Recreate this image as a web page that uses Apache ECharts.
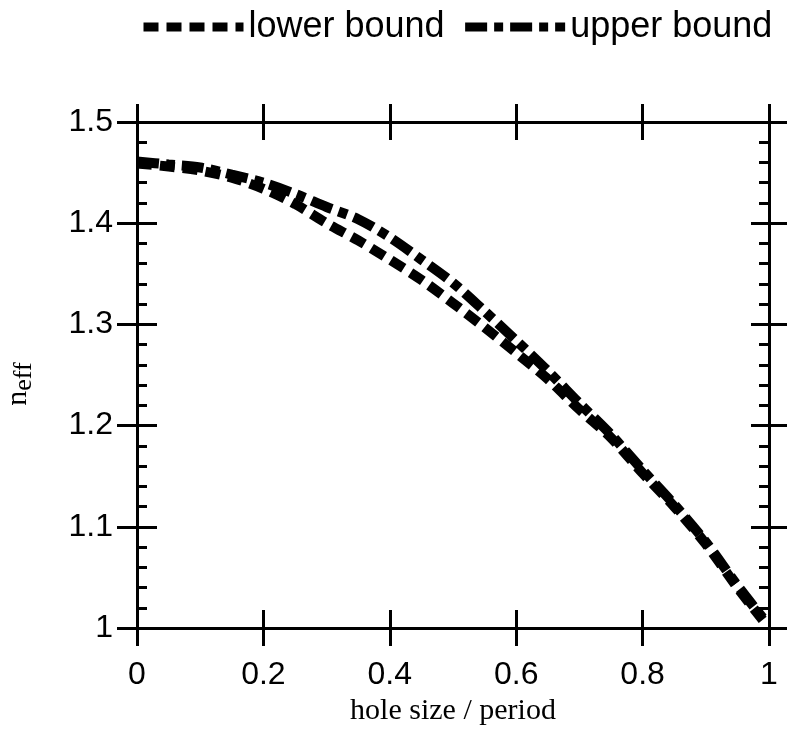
<!DOCTYPE html>
<html><head><meta charset="utf-8">
<script src="https://cdn.jsdelivr.net/npm/echarts@6/dist/echarts.min.js"></script>
<style>html,body{margin:0;padding:0;background:#fff}#c{width:789px;height:732px}</style>
</head><body><div id="c"></div>
<script>
// ---- data ----
const holeSize = [0, 0.05, 0.1, 0.15, 0.2, 0.25, 0.3, 0.35, 0.4, 0.45, 0.5, 0.55, 0.6, 0.65, 0.7, 0.75, 0.8, 0.85, 0.9, 0.95, 0.99];
const lowerBound = [1.459, 1.456, 1.452, 1.445, 1.434, 1.419, 1.400, 1.383, 1.364, 1.344, 1.321, 1.297, 1.272, 1.246, 1.216, 1.188, 1.153, 1.120, 1.083, 1.040, 1.008];
const upperBound = [1.461, 1.458, 1.455, 1.448, 1.440, 1.429, 1.416, 1.404, 1.386, 1.364, 1.341, 1.313, 1.284, 1.254, 1.222, 1.191, 1.156, 1.122, 1.085, 1.042, 1.010];
const seriesNames = ['lower bound', 'upper bound'];
const xTickLabels = ['0', '0.2', '0.4', '0.6', '0.8', '1'];
const yTickLabels = ['1', '1.1', '1.2', '1.3', '1.4', '1.5'];
const xAxisTitle = 'hole size / period';
const yAxisTitleMain = 'n';
const yAxisTitleSub = 'eff';

const pair = (xs, ys) => xs.map((x, i) => [x, ys[i]]);

const SANS = '"Liberation Sans", Arial, Helvetica, sans-serif';
const SERIF = '"Liberation Serif", "Times New Roman", serif';
const black = '#000';
const axisLine = {show: true, onZero: false, lineStyle: {color: black, width: 3}};
const tickStyle = {color: black, width: 3};

const xBase = {type: 'value', min: 0, max: 1, interval: 0.2, splitLine: {show: false}, axisLine: axisLine};
const yBase = {type: 'value', min: 1, max: 1.5, interval: 0.1, splitLine: {show: false}, axisLine: axisLine};

const option = {
  animation: false,
  backgroundColor: '#fff',
  grid: {left: 137, right: 20, top: 122, bottom: 104, containLabel: false, outerBoundsMode: 'none'},
  legend: {
    data: seriesNames,
    orient: 'horizontal',
    left: 139, top: 9, width: 650, padding: 0,
    itemWidth: 100, itemHeight: 14, itemGap: 16,
    selectedMode: false,
    lineStyle: {width: 9},
    itemStyle: {opacity: 0},
    textStyle: {fontSize: 36, fontFamily: SANS, color: black}
  },
  xAxis: [
    Object.assign({}, xBase, {
      position: 'bottom',
      axisTick: {show: true, inside: true, length: 18, lineStyle: tickStyle},
      axisLabel: {show: true, margin: 31, fontSize: 32, fontFamily: SANS, color: black,
        formatter: (v) => xTickLabels[Math.round(v / 0.2)]},
      name: xAxisTitle, nameLocation: 'middle', nameGap: 60,
      nameTextStyle: {fontSize: 30, fontFamily: SERIF, color: black}
    }),
    Object.assign({}, xBase, {position: 'bottom', axisTick: {show: true, inside: false, length: 18, lineStyle: tickStyle}, axisLabel: {show: false}}),
    Object.assign({}, xBase, {position: 'top', axisTick: {show: true, inside: true, length: 18, lineStyle: tickStyle}, axisLabel: {show: false}}),
    Object.assign({}, xBase, {position: 'top', axisTick: {show: true, inside: false, length: 18, lineStyle: tickStyle}, axisLabel: {show: false}})
  ],
  yAxis: [
    Object.assign({}, yBase, {
      position: 'left',
      axisTick: {show: true, inside: true, length: 20, lineStyle: tickStyle},
      minorTick: {show: true, splitNumber: 5, length: 10, lineStyle: tickStyle},
      axisLabel: {show: true, margin: 24, fontSize: 32, fontFamily: SANS, color: black,
        formatter: (v) => yTickLabels[Math.round((v - 1) / 0.1)]},
      name: '{n|' + yAxisTitleMain + '}{s|' + yAxisTitleSub + '}',
      nameLocation: 'middle', nameGap: 100, nameRotate: 90,
      nameTextStyle: {
        color: black, fontFamily: SERIF, padding: [0, 18, 0, 0],
        rich: {
          n: {fontSize: 30, fontFamily: SERIF, color: black},
          s: {fontSize: 26, fontFamily: SERIF, color: black, padding: [12, 0, 0, 0]}
        }
      }
    }),
    Object.assign({}, yBase, {position: 'left', axisTick: {show: true, inside: false, length: 20, lineStyle: tickStyle}, axisLabel: {show: false}}),
    Object.assign({}, yBase, {position: 'right',
      axisTick: {show: true, inside: true, length: 18, lineStyle: tickStyle},
      minorTick: {show: true, splitNumber: 5, length: 10, lineStyle: tickStyle},
      axisLabel: {show: false}}),
    Object.assign({}, yBase, {position: 'right', axisTick: {show: true, inside: false, length: 18, lineStyle: tickStyle}, axisLabel: {show: false}})
  ],
  series: [
    {
      name: seriesNames[0], type: 'line', xAxisIndex: 0, yAxisIndex: 0,
      data: pair(holeSize, lowerBound),
      symbol: 'none', smooth: 0.3, color: black,
      lineStyle: {color: black, width: 10, type: [15, 8], cap: 'butt'}
    },
    {
      name: seriesNames[1], type: 'line', xAxisIndex: 0, yAxisIndex: 0,
      data: pair(holeSize, upperBound),
      symbol: 'none', smooth: 0.3, color: black,
      lineStyle: {color: black, width: 10, type: [22, 7, 9, 7], cap: 'butt'}
    }
  ]
};

const chart = echarts.init(document.getElementById('c'), null, {renderer: 'canvas'});
chart.setOption(option);
</script>
</body></html>
